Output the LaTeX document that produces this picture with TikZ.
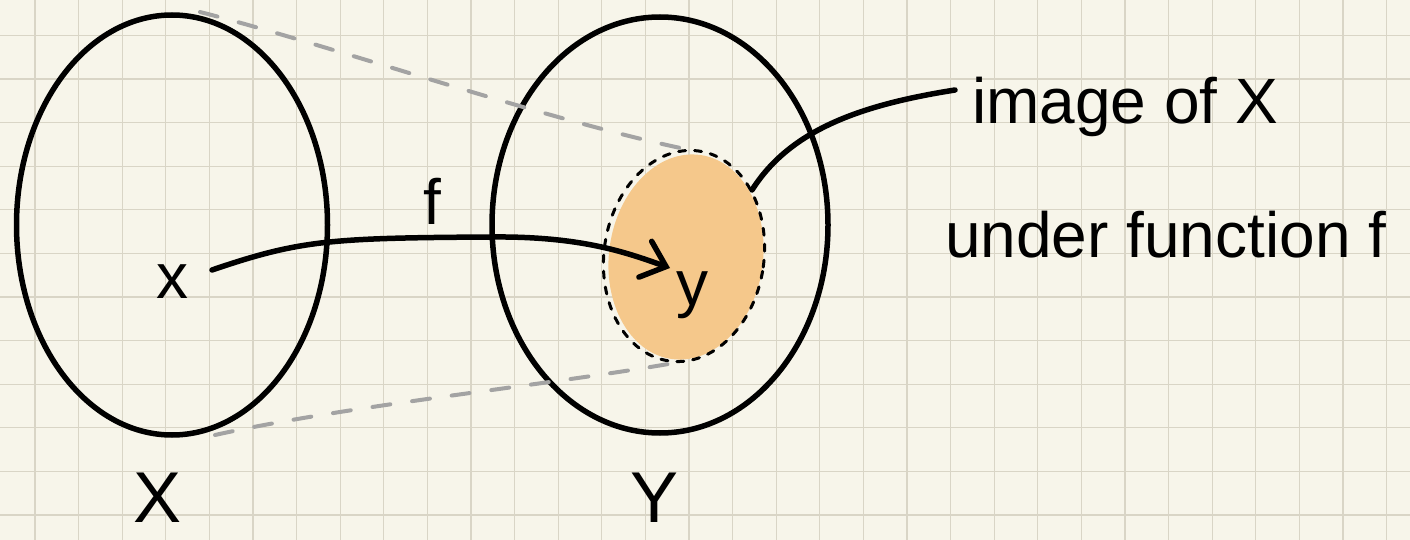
\documentclass[tikz,border=0pt]{standalone}
\usepackage{fontspec}
\setmainfont{Liberation Sans}
\usetikzlibrary{shapes.geometric,arrows.meta}
\definecolor{paper}{HTML}{F7F5EA}
\definecolor{gridc}{HTML}{D9D5C6}
\definecolor{blobc}{HTML}{F5C88B}
\definecolor{dashg}{HTML}{A3A3A3}
\tikzset{
  setshape/.style={ellipse, draw=black, line width=5.5pt, inner sep=0pt},
  ink/.style={draw=black, line width=5.5pt, line cap=round},
  gdash/.style={draw=dashg, line width=4pt, line cap=round, dash pattern=on 18pt off 22pt},
  lbl/.style={inner sep=0pt, font=\fontsize{64}{70}\selectfont},
  big/.style={inner sep=0pt, font=\fontsize{72}{76}\selectfont},
}
\begin{document}
\begin{tikzpicture}[x=1pt,y=-1pt]
\fill[paper] (0,0) rectangle (1410,540);
\useasboundingbox (0,0) rectangle (1410,540);
\foreach \i in {0,...,33} \draw[gridc, line width=1.3pt] (-8.6+43.6*\i,0) -- (-8.6+43.6*\i,540);
\foreach \j in {0,...,13} \draw[gridc, line width=1.3pt] (0,-8.2+43.6*\j) -- (1410,-8.2+43.6*\j);

% orange image blob
\node[ellipse, fill=blobc, minimum width=154pt, minimum height=206pt, inner sep=0pt, rotate=-8] (blob) at (686,257) {};
\draw[black, line width=3pt, dash pattern=on 7pt off 9pt, line cap=round, rotate around={-8:(684,256)}] (684,256) ellipse [x radius=80pt, y radius=106pt];

% sets
\node[setshape, minimum width=311pt, minimum height=420pt] (X) at (172,225) {};
\node[setshape, minimum width=336pt, minimum height=416pt] (Y) at (660,225) {};

% dashed grey guides
\coordinate (gt1) at (200,12);
\coordinate (gt2) at (700,152);
\coordinate (gb1) at (215,435);
\coordinate (gb2) at (680,362);
\draw[gdash] (gt1) .. controls (330,45) and (560,125) .. (gt2);
\draw[gdash] (gb1) .. controls (350,405) and (550,385) .. (gb2);

% labels
\node[lbl, anchor=base] (x) at (172,298) {x};
\node[lbl, anchor=base] (y) at (692,305) {y};
\node[lbl, anchor=base] (f) at (432,224) {f};
\node[big, anchor=base] (Xl) at (158,522) {X};
\node[big, anchor=base] (Yl) at (655,522) {Y};
\node[lbl, anchor=base west] (img) at (972,124) {image of X};
\node[lbl, anchor=base west] (under) at (945,257) {under function f};

% arrow f
\coordinate (tip) at (670,268);
\coordinate (xs) at (212,270);
\draw[ink, -{Straight Barb[length=22pt,width=38pt,line cap=round]}] (xs) .. controls (300,240) and (330,238) .. (490,237) .. controls (580,236) and (625,252) .. (tip);

% leader
\coordinate (ls) at (955,90);
\coordinate (lb) at (752,190);
\draw[ink] (ls) .. controls (860,105) and (790,130) .. (lb);
\end{tikzpicture}
\end{document}
